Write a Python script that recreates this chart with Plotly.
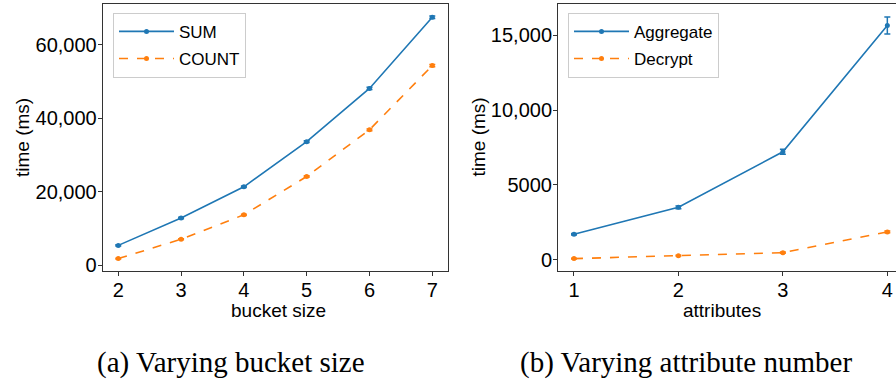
import plotly.graph_objects as go

# ---- data ----
bucket_size = [2, 3, 4, 5, 6, 7]
sum_ms = [5400, 12850, 21350, 33650, 48150, 67550]
sum_err = [150, 180, 200, 250, 300, 350]
count_ms = [1800, 7080, 13730, 24150, 36880, 54370]
count_err = [120, 150, 180, 200, 250, 300]

attributes = [1, 2, 3, 4]
aggregate_ms = [1713, 3510, 7220, 15650]
aggregate_err = [50, 90, 160, 570]
decrypt_ms = [86, 283, 480, 1864]
decrypt_err = [20, 30, 40, 60]

left_ticks = [0, 20000, 40000, 60000]
left_ticktext = ["0", "20,000", "40,000", "60,000"]
right_ticks = [0, 5000, 10000, 15000]
right_ticktext = ["0", "5000", "10,000", "15,000"]

BLUE = "#1f77b4"
ORANGE = "#ff7f0e"
W, H = 896, 385
SANS = "Liberation Sans, Arial, sans-serif"
SERIF = "Liberation Serif, Times New Roman, serif"

def px(x):
    return x / W

def py(y):
    return (H - y) / H

fig = go.Figure()

def add(x, y, e, name, color, dash, xa, ya, legend):
    fig.add_trace(go.Scatter(
        x=x, y=y, name=name, mode="lines+markers",
        line=dict(color=color, width=1.6, dash=dash),
        marker=dict(color=color, size=5),
        error_y=dict(type="data", array=e, color=color, thickness=1.5, width=3),
        xaxis=xa, yaxis=ya, legend=legend, legendgroup=name,
    ))

add(bucket_size, sum_ms, sum_err, "SUM", BLUE, "solid", "x", "y", "legend")
add(bucket_size, count_ms, count_err, "COUNT", ORANGE, "dash", "x", "y", "legend")
add(attributes, aggregate_ms, aggregate_err, "Aggregate", BLUE, "solid", "x2", "y2", "legend2")
add(attributes, decrypt_ms, decrypt_err, "Decrypt", ORANGE, "dash", "x2", "y2", "legend2")

ydom = [py(274.3), py(4.3)]
axis_common = dict(
    showline=True, linecolor="#333", linewidth=1, ticks="outside", ticklen=4,
    tickcolor="#333", showgrid=False, zeroline=False, ticklabelstandoff=-3,
    tickfont=dict(family=SANS, size=20, color="black"),
)

legend_common = dict(
    bordercolor="#cccccc", borderwidth=1, bgcolor="rgba(255,255,255,0.8)",
    font=dict(family=SANS, size=17, color="black"),
    xanchor="left", yanchor="top", traceorder="grouped", tracegroupgap=2,
    itemwidth=55,
)

fig.update_layout(
    width=W, height=H, margin=dict(l=0, r=0, t=0, b=0),
    paper_bgcolor="white", plot_bgcolor="white",
    showlegend=True,
    xaxis=dict(domain=[px(102.7), px(448.3)], range=[1.752, 7.255],
               tickvals=bucket_size, anchor="y", mirror=True, **axis_common),
    yaxis=dict(domain=ydom, range=[-1505, 71075], tickvals=left_ticks,
               ticktext=left_ticktext, anchor="x", mirror=True, **axis_common),
    xaxis2=dict(domain=[px(558), 1.0], range=[0.847, 4.083],
                tickvals=attributes, anchor="y2", mirror=True, **axis_common),
    yaxis2=dict(domain=ydom, range=[-725, 17068], tickvals=right_ticks,
                ticktext=right_ticktext, anchor="x2", mirror=False, **axis_common),
    legend=dict(x=px(113), y=py(13), **legend_common),
    legend2=dict(x=px(568), y=py(13), **legend_common),
)

annotations = [
    dict(text="bucket size", x=px(278), y=py(315), font=dict(family=SANS, size=19)),
    dict(text="attributes", x=px(722), y=py(315), font=dict(family=SANS, size=19)),
    dict(text="time (ms)", x=px(22.5), y=py(139.3), textangle=-90, font=dict(family=SANS, size=19)),
    dict(text="time (ms)", x=px(478), y=py(139.3), textangle=-90, font=dict(family=SANS, size=19)),
    dict(text="(a) Varying bucket size", x=px(231), y=py(367), font=dict(family=SERIF, size=29)),
    dict(text="(b) Varying attribute number", x=px(686), y=py(367), font=dict(family=SERIF, size=29)),
]
for a in annotations:
    a.update(xref="paper", yref="paper", showarrow=False, xanchor="center", yanchor="middle")
    a["font"]["color"] = "black"
fig.update_layout(annotations=annotations)

fig.write_html(
    "out.html",
    config={"displayModeBar": False},
    post_script="document.body.style.margin='0';document.body.style.overflow='hidden';",
)
